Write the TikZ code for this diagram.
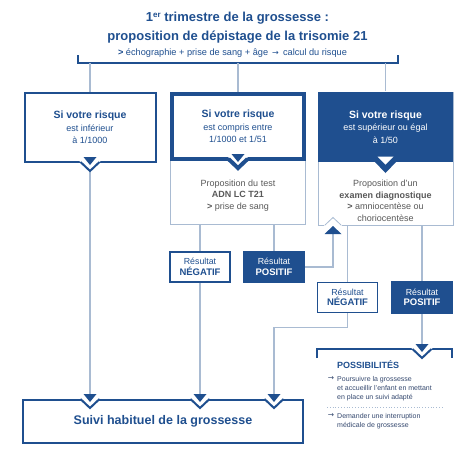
\documentclass[tikz,border=0pt]{standalone}
\usepackage{fontspec}
\setmainfont{Liberation Sans}
\newfontfamily\symfont{DejaVu Sans}

\definecolor{dblue}{HTML}{1F4F8F}
\definecolor{lline}{HTML}{A9BBD2}
\definecolor{gtext}{HTML}{595959}
\definecolor{itext}{HTML}{34486E}

\newcommand*{\notchW}{9.5}
\newcommand*{\notchD}{9}
\newcommand*{\head}[1]{{\fontsize{10.5}{12.5}\selectfont\bfseries #1}}

% pointer under an edge: [#1] = half border width, #2 = x, #3 = y of the edge
\newcommand*{\notchdown}[3][1]{%
  \fill[white] (#2-\notchW-2,#3-2*#1) -- (#2+\notchW+2,#3-2*#1) -- (#2,#3+\notchD+1) -- cycle;
  \draw[dblue,line width={2*#1*1pt}] (#2-\notchW,#3) -- (#2,#3+\notchD) -- (#2+\notchW,#3);
  \fill[dblue] (#2-6.5,#3-5) -- (#2+6.5,#3-5) -- (#2,#3+3) -- cycle;
}
% same, on a filled box
\newcommand*{\notchinv}[2]{%
  \fill[dblue] (#1-11,#2-0.5) -- (#1+11,#2-0.5) -- (#1,#2+11) -- cycle;
  \fill[white] (#1-8,#2-5.5) -- (#1+8,#2-5.5) -- (#1,#2+2.5) -- cycle;
}
% pointer going up into an edge
\newcommand*{\notchup}[2]{%
  \fill[white] (#1-9,#2+1) -- (#1+9,#2+1) -- (#1,#2-9) -- cycle;
  \draw[lline,line width=0.8pt] (#1-8,#2) -- (#1,#2-7.5) -- (#1+8,#2);
  \fill[dblue] (#1-8.5,#2+9) -- (#1+8.5,#2+9) -- (#1,#2+1) -- cycle;
}

\tikzset{
  link/.style={draw=lline, line width=1.3pt},
  bracket/.style={draw=dblue, line width=2pt},
  riskbox/.style={draw=dblue, line width=2pt, fill=white, text=dblue, align=center,
    inner sep=0pt, minimum width=131pt, minimum height=69pt,
    font=\fontsize{9}{12.5}\selectfont},
  propbox/.style={draw=lline, line width=0.8pt, fill=white, inner sep=0pt,
    minimum width=135pt},
  proptext/.style={text=gtext, align=center, inner sep=0pt,
    font=\fontsize{9}{11.5}\selectfont},
  resneg/.style={draw=dblue, line width=1.8pt, fill=white, text=dblue, align=center,
    inner sep=0pt, minimum width=60pt, minimum height=30pt,
    font=\fontsize{9.5}{10.6}\selectfont},
  respos/.style={fill=dblue, text=white, align=center, inner sep=0pt,
    minimum width=62pt, minimum height=32pt, font=\fontsize{9.5}{10.6}\selectfont},
  itemtext/.style={text=itext, align=left, inner sep=0pt,
    font=\fontsize{7}{9}\selectfont}
}

\begin{document}
\begin{tikzpicture}[x=1pt,y=-1pt]
\useasboundingbox (0,0) rectangle (474,464);

% title
\node[text=dblue, align=center, font=\fontsize{13}{19}\selectfont\bfseries] (title)
  at (237.5,28) {1{\fontsize{8}{8}\selectfont\raisebox{4.5pt}{er}} trimestre de la grossesse :\\proposition de dépistage de la trisomie 21};
\node[text=dblue, font=\fontsize{9.2}{10}\selectfont] (sub) at (232.5,53)
  {\textbf{>} échographie + prise de sang + âge \,{\symfont\fontsize{8}{8}\selectfont →}\, calcul du risque};
\draw[bracket] (78,55) -- (78,63) -- (398,63) -- (398,55);

% boxes
\node[propbox, minimum height=132pt] (prop2) at (238,158) {};
\node[propbox, minimum height=133pt] (prop3) at (385.5,158.5) {};

\node[riskbox] (risk1) at (90,127.5) {\head{Si votre risque}\\est inférieur\\à 1/1000};
\node[riskbox, line width=4pt, minimum width=132pt, minimum height=65pt] (risk2) at (238,126.5)
  {\head{Si votre risque}\\est compris entre\\1/1000 et 1/51};
\node[riskbox, draw=none, fill=dblue, text=white, minimum width=135pt, minimum height=70pt] (risk3)
  at (385.5,127) {\head{Si votre risque}\\est supérieur ou égal\\à 1/50};

\node[proptext] (prop2txt) at (238,195.5) {Proposition du test\\\textbf{ADN LC T21}\\\textbf{>} prise de sang};
\node[proptext] (prop3txt) at (385.5,201) {Proposition d’un\\\textbf{examen diagnostique}\\\textbf{>} amniocentèse ou\\choriocentèse};

\node[resneg] (neg1) at (200,267) {{\fontsize{8.8}{10}\selectfont Résultat}\\\textbf{NÉGATIF}};
\node[respos] (pos1) at (274,267) {{\fontsize{8.8}{10}\selectfont Résultat}\\\textbf{POSITIF}};
\node[resneg] (neg2) at (347.5,297.5) {{\fontsize{8.8}{10}\selectfont Résultat}\\\textbf{NÉGATIF}};
\node[respos, minimum height=33pt] (pos2) at (422,297.5) {{\fontsize{8.8}{10}\selectfont Résultat}\\\textbf{POSITIF}};

\node[resneg, line width=2pt, minimum width=280pt, minimum height=43pt,
  font=\fontsize{12.5}{14}\selectfont\bfseries] (suivi) at (163,421) {Suivi habituel de la grossesse};

% links
\foreach \r in {risk1,risk2,risk3} {
  \draw[link] (\r.north) -- (\r.north |- 0,63);
}
\coordinate (upn) at (333,234);
\coordinate (s3) at (274,399);
\coordinate (pn) at (422,349);
\draw[link] (risk1.south) -- (risk1.south |- suivi.north);
\draw[link] (neg1.north |- prop2.south) -- (neg1.north);
\draw[link] (pos1.north |- prop2.south) -- (pos1.north);
\draw[link] (neg1.south) -- (neg1.south |- suivi.north);
\draw[link] (pos1.east) -| (upn);
\draw[link] (neg2.north |- prop3.south) -- (neg2.north);
\draw[link] (pos2.north |- prop3.south) -- (pos2.north);
\draw[link] (neg2.south) -- ++(0,14) -| (s3);
\draw[link] (pos2.south) -- (pn);

% pointers
\notchdown{90}{162}
\notchdown[2]{238}{159}
\notchinv{385.5}{162}
\notchup{333}{225}
\foreach \x in {90,200,274} {
  \notchdown{\x}{399}
}

% possibilites
\draw[bracket] (317,358) -- (317,349) -- (452,349) -- (452,358);
\notchdown{422}{349}
\node[text=dblue, anchor=west, inner sep=0pt, font=\fontsize{9}{10}\selectfont\bfseries] (poss)
  at (337,365) {POSSIBILITÉS};
\node[itemtext, anchor=north west] (item1) at (337,376.5)
  {Poursuivre la grossesse\\et accueillir l’enfant en mettant\\en place un suivi adapté};
\node[itemtext, font=\symfont\fontsize{7.5}{8}\selectfont] (arr1) at (331,379) {→};
\draw[lline, line width=0.8pt, dotted] (327,407) -- (443,407);
\node[itemtext, anchor=north west] (item2) at (337,413.5)
  {Demander une interruption\\médicale de grossesse};
\node[itemtext, font=\symfont\fontsize{7.5}{8}\selectfont] (arr2) at (331,416) {→};

\end{tikzpicture}
\end{document}
